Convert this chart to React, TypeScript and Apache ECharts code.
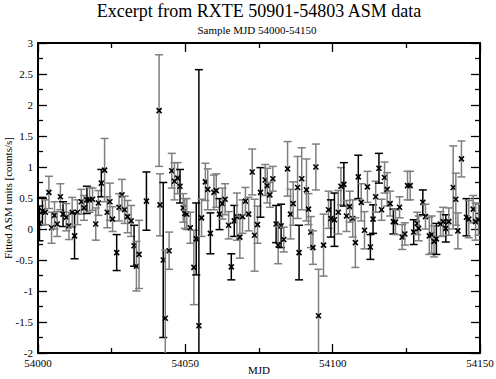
import React, { useEffect, useRef } from "react";
import * as echarts from "echarts";

const mjd = [
  54000.5, 54001.5, 54002.5, 54003.7, 54004.6, 54005.6, 54006.5, 54007.6, 54008.5, 54009.6,
  54010.5, 54011.6, 54012.4, 54013.4, 54014.7, 54015.6, 54016.6, 54017.5, 54018.5, 54019.6,
  54020.5, 54021.5, 54022.6, 54023.5, 54024.4, 54025.3, 54026.7, 54027.5, 54028.5, 54029.4,
  54030.4, 54031.6, 54032.6, 54033.4, 54034.3, 54036.8, 54041.1, 54041.4, 54042.5, 54043.2,
  54044.5, 54045.4, 54046.3, 54047.4, 54048.2, 54049.3, 54049.8, 54050.5, 54051.7, 54052.9,
  54053.7, 54054.6, 54055.5, 54056.8, 54057.6, 54058.5, 54059.7, 54060.5, 54061.6, 54062.6,
  54063.5, 54064.7, 54065.6, 54066.6, 54067.5, 54068.5, 54069.4, 54070.4, 54071.5, 54072.7,
  54073.5, 54074.5, 54075.5, 54077.1, 54077.8, 54078.7, 54079.7, 54080.8, 54081.5, 54082.5,
  54083.4, 54084.7, 54085.7, 54086.6, 54088.1, 54088.6, 54089.5, 54091.1, 54091.8, 54092.6,
  54093.3, 54094.3, 54095.2, 54096.9, 54098.6, 54099.4, 54100.6, 54101.9, 54102.8, 54103.8,
  54104.7, 54105.8, 54106.8, 54107.7, 54108.7, 54109.7, 54110.8, 54111.8, 54112.8, 54113.7,
  54114.6, 54115.7, 54116.6, 54117.6, 54118.5, 54119.5, 54120.6, 54121.3, 54122.7, 54123.6,
  54124.5, 54125.4, 54126.3, 54127.5, 54128.7, 54129.2, 54130.6, 54131.5, 54132.8, 54133.6,
  54134.4, 54135.2, 54136.6, 54137.5, 54138.4, 54139.4, 54140.9, 54141.8, 54142.5, 54143.7,
  54145.4, 54146.2, 54147.7, 54148.5, 54149.5,
];

const rate = [
  0.09, 0.29, 0.27, 0.59, 0.02, 0.22, 0.08, 0.52, 0.24, 0.19,
  0.05, 0.27, -0.11, 0.27, 0.44, 0.34, 0.47, 0.47, 0.48, 0.08,
  0.42, 0.74, 0.95, 0.27, 0.44, 0.16, -0.38, 0.35, 0.55, 0.31,
  0.2, 0.13, -0.27, -0.6, -0.41, 0.45, 1.91, 0.39, -0.5, -1.44,
  -0.35, 0.94, 0.77, 0.82, 0.69, 0.34, 0.25, 0.24, 0.02, -0.62,
  -0.16, -1.56, 0.18, 0.76, 0.64, -0.07, 0.59, 0.62, 0.24, 0.41,
  0.48, 0.06, -0.61, 0.13, 0.2, -0.13, 0.2, 0.45, 0.24, 0.92,
  -0.1, 0.07, 0.59, 0.79, 0.7, 0.55, 0.81, 0.08, -0.26, 0.05,
  -0.17, 0.97, 0.24, 0.41, 0.67, -0.38, 0.81, 0.63, 0.32, -0.05,
  -0.3, 1.0, -1.4, -0.26, 0.31, 0.17, 0.15, 0.27, 0.69, 0.72,
  0.21, 0.36, 0.17, -0.22, 0.84, 0.43, -0.02, 0.68, -0.29, 0.16,
  0.52, 0.98, 0.31, 0.83, 0.64, 0.41, 0.12, 0.11, 0.35, -0.13,
  -0.08, 0.7, 0.7, -0.05, 0.09, 0.01, 0.43, 0.2, -0.11, -0.09,
  -0.2, -0.16, 0.08, 0.12, 0.01, 0.12, 0.67, 0.48, -0.03, 1.13,
  0.19, 0.16, 0.32, 0.12, 0.15,
];

const rateErr = [
  0.28, 0.22, 0.2, 0.26, 0.25, 0.22, 0.2, 0.21, 0.2, 0.22,
  0.22, 0.24, 0.37, 0.2, 0.2, 0.2, 0.22, 0.2, 0.18, 0.26,
  0.2, 0.22, 0.51, 0.25, 0.3, 0.2, 0.29, 0.22, 0.25, 0.22,
  0.26, 0.25, 0.33, 0.4, 0.55, 0.47, 0.9, 0.5, 1.25, 1.1,
  0.3, 0.28, 0.3, 0.25, 0.27, 0.23, 0.24, 0.25, 0.25, 0.6,
  0.58, 4.13, 0.3, 0.3, 0.33, 0.33, 0.28, 0.27, 0.25, 0.25,
  0.25, 0.22, 0.21, 0.25, 0.38, 0.34, 0.27, 0.22, 0.27, 0.37,
  0.58, 0.3, 0.4, 0.25, 0.28, 0.2, 0.2, 0.3, 0.3, 0.35,
  0.2, 0.44, 0.4, 0.35, 0.5, 0.44, 0.5, 0.5, 0.25, 0.25,
  0.27, 0.37, 0.75, 0.5, 0.3, 0.3, 0.43, 0.35, 0.3, 0.35,
  0.25, 0.25, 0.3, 0.4, 0.35, 0.3, 0.3, 0.25, 0.2, 0.23,
  0.25, 0.24, 0.17, 0.25, 0.27, 0.2, 0.2, 0.2, 0.17, 0.2,
  0.18, 0.23, 0.23, 0.2, 0.18, 0.2, 0.2, 0.2, 0.3, 0.3,
  0.25, 0.25, 0.2, 0.23, 0.22, 0.22, 0.67, 0.42, 0.29, 0.29,
  0.3, 0.3, 0.22, 0.3, 0.25,
];

// 1 = black error bar, 0 = grey error bar
const barIsBlack = [
  1, 1, 0, 0, 0, 0, 0, 0, 1, 0,
  0, 0, 1, 0, 0, 0, 1, 0, 0, 0,
  0, 1, 0, 0, 0, 0, 1, 0, 0, 0,
  0, 0, 1, 0, 0, 1, 0, 0, 1, 0,
  0, 0, 0, 0, 1, 0, 0, 0, 0, 0,
  1, 1, 0, 0, 0, 1, 0, 0, 1, 0,
  0, 0, 1, 1, 0, 0, 0, 0, 0, 0,
  0, 0, 1, 0, 0, 0, 0, 1, 0, 1,
  0, 0, 0, 0, 0, 1, 0, 0, 0, 0,
  0, 0, 0, 0, 0, 1, 1, 0, 0, 1,
  0, 0, 0, 0, 1, 0, 0, 0, 1, 1,
  0, 1, 0, 0, 0, 0, 1, 0, 0, 0,
  0, 0, 0, 1, 0, 0, 1, 0, 0, 0,
  0, 1, 0, 0, 1, 0, 0, 0, 0, 0,
  1, 0, 0, 0, 0,
];

const titleText = "Excerpt from RXTE 50901-54803 ASM data";
const subtitleText = "Sample MJD 54000-54150";
const xName = "MJD";
const yName = "Fitted ASM units [counts/s]";

const SERIF = "Liberation Serif";

export default function App() {
  const ref = useRef<HTMLDivElement>(null);
  useEffect(() => {
    if (!ref.current) return;
    const chart = echarts.init(ref.current, undefined, { renderer: "svg", width: 496, height: 379 });
    const data = mjd.map((x, i) => [x, rate[i], rateErr[i], barIsBlack[i]]);
    const axisLine = { show: true, onZero: false, lineStyle: { color: "#000", width: 2 } };
    const axisTick = { show: true, inside: true, length: 9, lineStyle: { color: "#000", width: 1.3 } };
    const minorTick = { show: true, splitNumber: 2, length: 5, lineStyle: { color: "#000", width: 1.3 } };
    const labelStyle = { color: "#000", fontFamily: SERIF, fontSize: 11 };
    const option: any = {
      animation: false,
      backgroundColor: "#fff",
      grid: { left: 38, right: 16, top: 43, bottom: 26, containLabel: false, outerBoundsMode: "none" },
      graphic: [
        {
          type: "text",
          x: 259,
          y: 2,
          style: {
            text: titleText,
            fill: "#000",
            fontFamily: SERIF,
            fontSize: 18,
            align: "center",
            verticalAlign: "top",
          },
        },
        {
          type: "text",
          x: 257,
          y: 24,
          style: {
            text: subtitleText,
            fill: "#000",
            fontFamily: SERIF,
            fontSize: 11,
            align: "center",
            verticalAlign: "top",
          },
        },
      ],
      xAxis: [
        {
          type: "value",
          position: "bottom",
          min: 54000,
          max: 54150,
          interval: 50,
          axisLine,
          axisTick,
          minorTick,
          splitLine: { show: false },
          minorSplitLine: { show: false },
          axisLabel: { ...labelStyle, margin: 4, formatter: (v: number) => String(v) },
          name: xName,
          nameLocation: "middle",
          nameGap: 11,
          nameMoveOverlap: false,
          nameTextStyle: labelStyle,
        },
        {
          type: "value",
          position: "top",
          min: 54000,
          max: 54150,
          interval: 50,
          axisLine,
          axisTick,
          minorTick,
          splitLine: { show: false },
          axisLabel: { show: false },
        },
      ],
      yAxis: [
        {
          type: "value",
          position: "left",
          min: -2,
          max: 3,
          interval: 0.5,
          axisLine,
          axisTick,
          minorTick,
          splitLine: { show: false },
          minorSplitLine: { show: false },
          axisLabel: { ...labelStyle, margin: 5, formatter: (v: number) => String(v) },
          name: yName,
          nameLocation: "middle",
          nameGap: 25,
          nameMoveOverlap: false,
          nameTextStyle: labelStyle,
        },
        {
          type: "value",
          position: "right",
          min: -2,
          max: 3,
          interval: 0.5,
          axisLine,
          axisTick,
          minorTick,
          splitLine: { show: false },
          axisLabel: { show: false },
        },
      ],
      series: [
        {
          type: "custom",
          xAxisIndex: 0,
          yAxisIndex: 0,
          clip: true,
          data,
          encode: { x: 0, y: 1 },
          renderItem: (params: any, api: any) => {
            const x = api.value(0);
            const y = api.value(1);
            const e = api.value(2);
            const black = api.value(3) === 1;
            const p = api.coord([x, y]);
            const t = api.coord([x, y + e]);
            const b = api.coord([x, y - e]);
            const col = black ? "#000" : "#7f7f7f";
            const bs = { stroke: col, lineWidth: 1.5 };
            const ms = { stroke: "#000", lineWidth: 1.6 };
            const m = 2.5;
            return {
              type: "group",
              children: [
                { type: "line", shape: { x1: p[0], y1: t[1], x2: p[0], y2: b[1] }, style: bs },
                { type: "line", shape: { x1: p[0] - 4, y1: t[1], x2: p[0] + 4, y2: t[1] }, style: bs },
                { type: "line", shape: { x1: p[0] - 4, y1: b[1], x2: p[0] + 4, y2: b[1] }, style: bs },
                { type: "line", shape: { x1: p[0] - m, y1: p[1] - m, x2: p[0] + m, y2: p[1] + m }, style: ms },
                { type: "line", shape: { x1: p[0] - m, y1: p[1] + m, x2: p[0] + m, y2: p[1] - m }, style: ms },
              ],
            };
          },
        },
      ],
    };
    chart.setOption(option);
    return () => chart.dispose();
  }, []);
  return (
    <div
      ref={ref}
      style={{ position: "fixed", left: 0, top: 0, width: 496, height: 379, background: "#fff" }}
    />
  );
}
